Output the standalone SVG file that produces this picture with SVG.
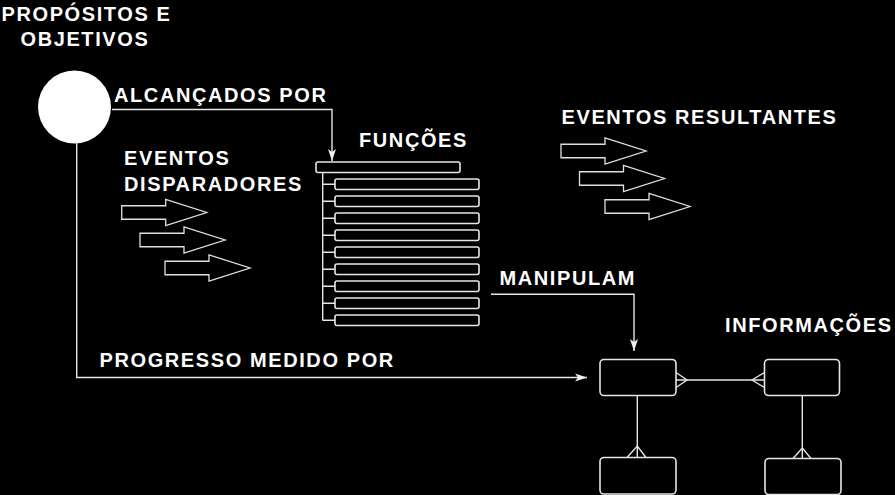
<svg xmlns="http://www.w3.org/2000/svg" width="895" height="495" viewBox="0 0 895 495">
<defs>
<style>
text{font-family:"Liberation Sans",Arial,sans-serif;font-weight:bold;font-size:20px;fill:#ffffff;letter-spacing:1.6px}
.ln{fill:none;stroke:#e6e6e6;stroke-width:1.4}
.box{fill:#000;stroke:#e6e6e6;stroke-width:1.6}
.arr{fill:#000;stroke:#e0e0e0;stroke-width:1.3;stroke-linejoin:miter}
</style>
<marker id="ah" viewBox="0 0 12 10" refX="12" refY="5" markerWidth="12" markerHeight="10" markerUnits="userSpaceOnUse" orient="auto">
<path d="M0,1 L12,5 L0,9 L3,5 Z" fill="#f0f0f0"/>
</marker>
<path id="bigarrow" d="M0,-6.75 H44 V-13 L85,0 L44,13 V6.75 H0 Z"/>
</defs>
<rect width="895" height="495" fill="#000"/>

<g id="propositos">
<circle cx="74.5" cy="107" r="36.5" fill="#ffffff"/>
<text x="1.5" y="21">PROPÓSITOS E</text>
<text x="20.5" y="46">OBJETIVOS</text>
</g>

<g id="funcoes">
<text x="359" y="147">FUNÇÕES</text>
<rect class="box" x="316" y="162" width="144" height="10.5" rx="2"/>
<path class="ln" d="M322.7,172.5 V320.5 M322.7,184.2 H335 M322.7,201.2 H335 M322.7,218.2 H335 M322.7,235.2 H335 M322.7,252.2 H335 M322.7,269.2 H335 M322.7,286.2 H335 M322.7,303.2 H335 M322.7,320.2 H335"/>
<rect class="box" x="335" y="179" width="144" height="10.5" rx="2"/>
<rect class="box" x="335" y="196" width="144" height="10.5" rx="2"/>
<rect class="box" x="335" y="213" width="144" height="10.5" rx="2"/>
<rect class="box" x="335" y="230" width="144" height="10.5" rx="2"/>
<rect class="box" x="335" y="247" width="144" height="10.5" rx="2"/>
<rect class="box" x="335" y="264" width="144" height="10.5" rx="2"/>
<rect class="box" x="335" y="281" width="144" height="10.5" rx="2"/>
<rect class="box" x="335" y="298" width="144" height="10.5" rx="2"/>
<rect class="box" x="335" y="315" width="144" height="10.5" rx="2"/>
</g>

<g id="eventos-disparadores">
<text x="124" y="165">EVENTOS</text>
<text x="124" y="191">DISPARADORES</text>
<use href="#bigarrow" class="arr" transform="translate(121.7,212.5)"/>
<use href="#bigarrow" class="arr" transform="translate(140,240)"/>
<use href="#bigarrow" class="arr" transform="translate(165,268)"/>
</g>

<g id="eventos-resultantes">
<text x="561.5" y="124">EVENTOS RESULTANTES</text>
<use href="#bigarrow" class="arr" transform="translate(561,151)"/>
<use href="#bigarrow" class="arr" transform="translate(579.5,178.5)"/>
<use href="#bigarrow" class="arr" transform="translate(605,206.5)"/>
</g>

<g id="informacoes">
<text x="725" y="332">INFORMAÇÕES</text>
<rect class="box" x="600" y="359.5" width="76" height="36" rx="4"/>
<rect class="box" x="764.5" y="359.5" width="75" height="36" rx="4"/>
<rect class="box" x="600" y="457.5" width="76" height="36.5" rx="4"/>
<rect class="box" x="765" y="458.5" width="76" height="36" rx="4"/>
</g>

<g id="connectors">
<path class="ln" d="M112,109.5 H332 V161" marker-end="url(#ah)"/>
<text x="114" y="102">ALCANÇADOS POR</text>
<path class="ln" d="M491,294.3 H634 V351" marker-end="url(#ah)"/>
<text x="499.5" y="285">MANIPULAM</text>
<path class="ln" d="M76.7,143 V377.5 H587" marker-end="url(#ah)"/>
<text x="99.5" y="367">PROGRESSO MEDIDO POR</text>
<path class="ln" d="M676,380 H764.5"/>
<path class="ln" d="M676,372.5 L687,380 L676,387.5"/>
<path class="ln" d="M764.5,372.5 L752,380 L764.5,387.5"/>
<path class="ln" d="M637.3,395.5 V457.5"/>
<path class="ln" d="M627,457.5 L637.3,446 L646,457.5"/>
<path class="ln" d="M802.3,395.5 V458.5"/>
<path class="ln" d="M793,458.5 L802.3,448 L811,458.5"/>
</g>
</svg>
